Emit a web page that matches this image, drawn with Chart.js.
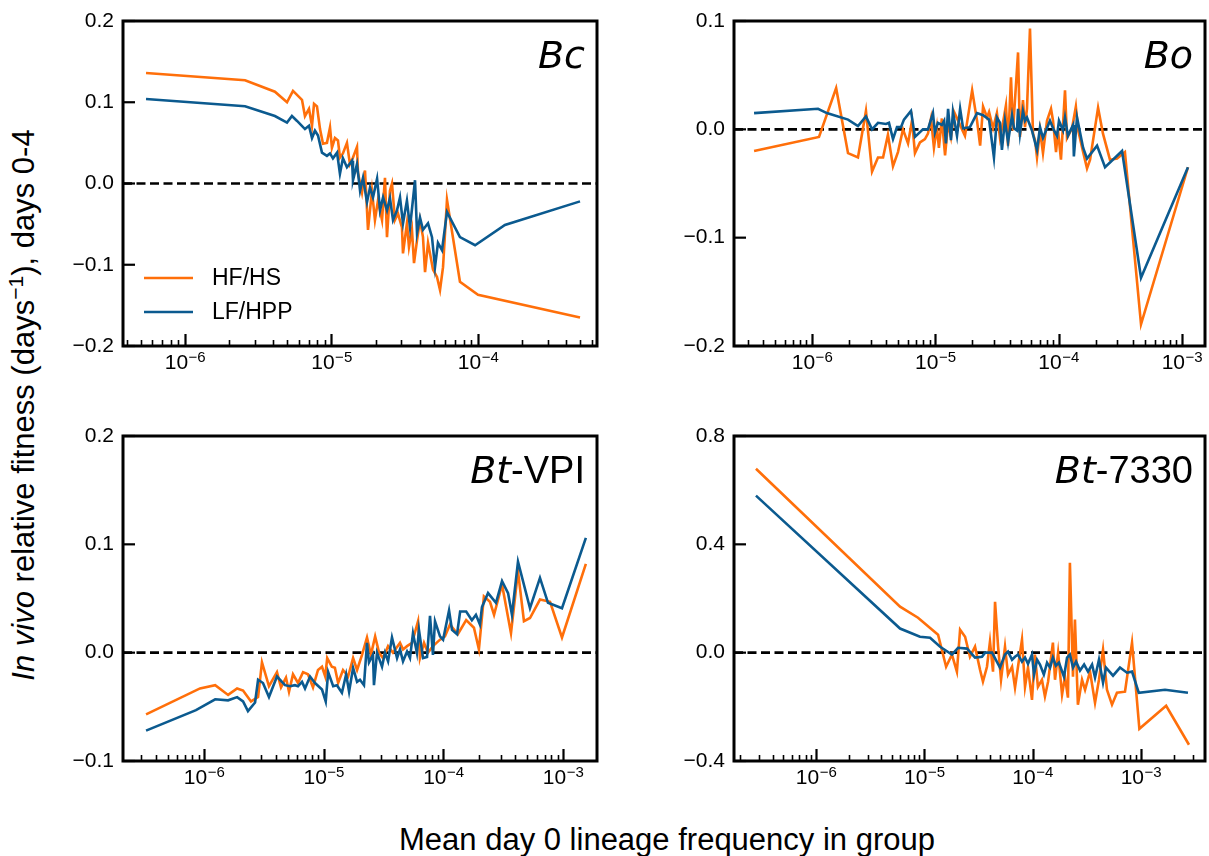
<!DOCTYPE html>
<html>
<head>
<meta charset="utf-8">
<script src="https://cdn.jsdelivr.net/npm/chart.js@4.4.0/dist/chart.umd.min.js"></script>
<style>
  body { margin: 0; background: #fff; width: 1209px; height: 856px; position: relative; overflow: hidden;
         font-family: 'Liberation Sans', Arial, sans-serif; color: #000; }
  canvas { position: absolute; }
  .xlab { position: absolute; left: 667px; top: 824px; transform: translateX(-50%);
          font-size: 31px; line-height: 31px; white-space: nowrap; }
  .ylab { position: absolute; left: 23px; top: 405px; transform: translate(-50%, -50%) rotate(-90deg);
          font-size: 31px; line-height: 31px; white-space: nowrap; }
  .ylab sup { font-size: 0.68em; position: relative; top: -0.5em; vertical-align: baseline; line-height: 0; }
</style>
</head>
<body>
<div class="ylab"><i>In vivo</i> relative fitness (days<sup>−1</sup>), days 0-4</div>
<div class="xlab">Mean day 0 lineage frequency in group</div>
<script>
const seriesLabels = ["HF/HS", "LF/HPP"];
const seriesColors = ["#ff6f0a", "#0b5a8f"];

// Bc
const bcFreqHF = [5.42e-7, 2.57e-6, 4.11e-6, 4.97e-6, 5.46e-6, 6.29e-6, 6.59e-6, 7.02e-6, 7.36e-6, 7.60e-6,
  7.96e-6, 8.35e-6, 8.75e-6, 9.31e-6, 9.77e-6, 1.007e-5, 1.056e-5, 1.107e-5, 1.142e-5, 1.197e-5,
  1.275e-5, 1.336e-5, 1.402e-5, 1.493e-5, 1.517e-5, 1.615e-5, 1.693e-5, 1.775e-5, 1.889e-5, 1.980e-5,
  2.076e-5, 2.212e-5, 2.318e-5, 2.392e-5, 2.506e-5, 2.588e-5, 2.711e-5, 2.842e-5, 3.027e-5, 3.076e-5,
  3.273e-5, 3.380e-5, 3.542e-5, 3.658e-5, 3.835e-5, 4.019e-5, 4.212e-5, 4.350e-5, 4.559e-5, 4.929e-5,
  5.249e-5, 5.505e-5, 5.771e-5, 6.142e-5, 7.53e-5, 1.0e-4, 4.97e-4];
const bcFitHF = [0.136, 0.127, 0.113, 0.100, 0.114, 0.103, 0.083, 0.092, 0.071, 0.098,
  0.095, 0.067, 0.049, 0.050, 0.069, 0.044, 0.056, 0.053, 0.032, 0.037,
  0.050, 0.024, 0.032, 0.045, 0.013, -0.011, 0.016, -0.057, -0.009, -0.045,
  -0.021, -0.045, 0.007, -0.066, -0.009, 0.000, -0.045, -0.037, -0.054, -0.086,
  -0.049, -0.078, -0.057, -0.098, -0.070, -0.045, -0.066, -0.109, -0.073, -0.106,
  -0.115, -0.131, -0.103, -0.020, -0.121, -0.137, -0.165];
const bcFreqLF = [5.42e-7, 2.57e-6, 4.11e-6, 4.97e-6, 5.37e-6, 5.82e-6, 6.59e-6, 7.02e-6, 7.36e-6, 7.71e-6,
  8.09e-6, 8.61e-6, 9.31e-6, 9.77e-6, 1.023e-5, 1.091e-5, 1.142e-5, 1.197e-5, 1.275e-5, 1.381e-5,
  1.402e-5, 1.493e-5, 1.567e-5, 1.641e-5, 1.747e-5, 1.832e-5, 1.920e-5, 2.047e-5, 2.145e-5, 2.249e-5,
  2.392e-5, 2.506e-5, 2.630e-5, 2.799e-5, 2.935e-5, 3.076e-5, 3.273e-5, 3.435e-5, 3.716e-5, 3.835e-5,
  4.019e-5, 4.212e-5, 4.559e-5, 4.853e-5, 5.086e-5, 5.330e-5, 5.679e-5, 6.142e-5, 7.53e-5, 9.55e-5,
  1.527e-4, 4.97e-4];
const bcFitLF = [0.104, 0.095, 0.083, 0.075, 0.083, 0.077, 0.067, 0.071, 0.056, 0.065,
  0.059, 0.038, 0.034, 0.037, 0.031, 0.038, 0.012, 0.031, 0.020, 0.028,
  0.004, 0.024, -0.009, 0.007, -0.023, -0.005, -0.017, 0.006, -0.033, -0.017,
  -0.033, -0.018, -0.045, -0.033, -0.017, -0.049, -0.021, -0.054, 0.004, -0.061,
  -0.042, -0.057, -0.049, -0.066, -0.103, -0.073, -0.082, -0.035, -0.066, -0.076,
  -0.051, -0.022];

// Bo
const boFreqHF = [3.39e-7, 1.14e-6, 1.57e-6, 1.96e-6, 2.36e-6, 2.74e-6, 3.07e-6, 3.43e-6, 3.77e-6, 4.13e-6,
  4.54e-6, 4.98e-6, 5.47e-6, 6.01e-6, 6.47e-6, 6.84e-6, 7.51e-6, 8.24e-6, 8.72e-6, 9.23e-6,
  9.75e-6, 1.03e-5, 1.07e-5, 1.13e-5, 1.20e-5, 1.27e-5, 1.34e-5, 1.42e-5, 1.53e-5, 1.74e-5,
  1.99e-5, 2.18e-5, 2.31e-5, 2.44e-5, 2.63e-5, 2.73e-5, 2.94e-5, 3.16e-5, 3.35e-5, 3.54e-5,
  3.74e-5, 3.89e-5, 4.11e-5, 4.27e-5, 4.69e-5, 4.86e-5, 5.14e-5, 5.34e-5, 5.54e-5, 5.86e-5,
  6.20e-5, 6.44e-5, 6.68e-5, 7.07e-5, 7.47e-5, 8.05e-5, 8.68e-5, 9.01e-5, 9.53e-5, 9.89e-5,
  1.045e-4, 1.127e-4, 1.17e-4, 1.285e-4, 1.38e-4, 1.44e-4, 1.58e-4, 1.70e-4, 1.80e-4, 2.09e-4,
  2.29e-4, 2.61e-4, 2.98e-4, 3.45e-4, 4.66e-4, 1.12e-3];
const boFitHF = [-0.020, -0.007, 0.038, -0.022, -0.026, 0.017, -0.039, -0.026, -0.026, -0.005,
  -0.034, -0.021, 0.000, -0.013, 0.008, -0.022, -0.012, -0.009, -0.004, 0.010,
  -0.017, 0.002, -0.017, 0.010, -0.024, 0.006, -0.007, 0.016, 0.008, -0.006,
  0.036, 0.008, -0.015, 0.021, 0.011, 0.016, 0.001, 0.015, -0.008, 0.006,
  0.022, -0.015, 0.048, -0.001, 0.071, -0.007, 0.027, 0.002, 0.019, 0.093,
  -0.004, -0.010, -0.026, -0.001, -0.022, 0.008, 0.019, 0.008, -0.021, -0.001,
  -0.028, 0.036, -0.008, 0.001, 0.021, -0.001, -0.021, -0.036, -0.028, 0.020,
  -0.004, -0.028, -0.027, -0.021, -0.180, -0.035];
const boFreqLF = [3.39e-7, 1.12e-6, 1.32e-6, 1.96e-6, 2.36e-6, 2.74e-6, 3.07e-6, 3.43e-6, 3.98e-6, 4.21e-6,
  4.54e-6, 4.89e-6, 5.27e-6, 5.57e-6, 6.35e-6, 6.84e-6, 7.94e-6, 8.72e-6, 9.57e-6, 9.93e-6,
  1.05e-5, 1.13e-5, 1.18e-5, 1.22e-5, 1.27e-5, 1.34e-5, 1.39e-5, 1.50e-5, 1.59e-5, 1.68e-5,
  1.91e-5, 2.18e-5, 2.44e-5, 2.73e-5, 2.99e-5, 3.16e-5, 3.35e-5, 3.47e-5, 3.67e-5, 3.89e-5,
  4.19e-5, 4.35e-5, 4.60e-5, 4.69e-5, 4.86e-5, 5.14e-5, 5.34e-5, 5.54e-5, 6.08e-5, 6.68e-5,
  7.07e-5, 7.47e-5, 8.51e-5, 9.18e-5, 9.71e-5, 1.007e-4, 1.086e-4, 1.127e-4, 1.19e-4, 1.31e-4,
  1.33e-4, 1.41e-4, 1.58e-4, 1.70e-4, 2.05e-4, 2.38e-4, 3.27e-4, 4.66e-4, 1.12e-3];
const boFitLF = [0.015, 0.019, 0.015, 0.009, 0.003, 0.012, 0.000, 0.006, 0.005, 0.006,
  -0.009, 0.002, 0.002, 0.009, 0.017, -0.007, 0.000, 0.000, 0.015, -0.003,
  0.006, 0.004, 0.008, -0.013, 0.019, -0.010, 0.016, -0.006, 0.019, 0.001,
  0.002, 0.015, 0.013, 0.009, -0.026, 0.011, 0.006, -0.019, 0.008, -0.012,
  0.013, 0.001, -0.001, 0.019, -0.004, 0.017, 0.008, 0.011, -0.001, -0.019,
  0.002, -0.008, 0.008, -0.001, -0.006, 0.008, -0.001, 0.011, -0.006, 0.004,
  -0.025, 0.011, -0.017, -0.027, -0.015, -0.035, -0.020, -0.137, -0.035];

// Bt-VPI
const vpiFreqHF = [3.28e-7, 9.26e-7, 1.24e-6, 1.59e-6, 1.89e-6, 2.12e-6, 2.47e-6, 2.83e-6, 3.05e-6, 3.49e-6,
  4.07e-6, 4.40e-6, 4.84e-6, 5.13e-6, 5.54e-6, 6.10e-6, 6.72e-6, 7.39e-6, 8.14e-6, 8.96e-6,
  9.68e-6, 1.03e-5, 1.07e-5, 1.17e-5, 1.24e-5, 1.32e-5, 1.45e-5, 1.60e-5, 1.76e-5, 1.90e-5,
  2.09e-5, 2.30e-5, 2.48e-5, 2.69e-5, 2.90e-5, 3.13e-5, 3.45e-5, 3.79e-5, 4.34e-5, 4.60e-5,
  4.97e-5, 5.47e-5, 6.14e-5, 6.37e-5, 6.89e-5, 7.43e-5, 8.18e-5, 9.37e-5, 1.03e-4, 1.135e-4,
  1.32e-4, 1.55e-4, 1.80e-4, 1.98e-4, 2.18e-4, 2.45e-4, 2.65e-4, 3.09e-4, 3.67e-4, 4.20e-4,
  4.71e-4, 5.29e-4, 6.41e-4, 7.78e-4, 9.79e-4, 1.55e-3];
const vpiFitHF = [-0.057, -0.033, -0.030, -0.039, -0.033, -0.035, -0.045, -0.041, -0.009, -0.031,
  -0.018, -0.032, -0.023, -0.036, -0.020, -0.028, -0.018, -0.020, -0.032, -0.016,
  -0.013, -0.022, -0.005, -0.013, -0.014, -0.028, -0.016, -0.022, -0.005, -0.016,
  -0.002, 0.014, -0.002, 0.015, 0.000, -0.005, 0.006, 0.000, 0.009, 0.003,
  0.006, 0.009, 0.029, -0.005, 0.009, 0.000, 0.006, 0.012, 0.015, 0.026,
  0.017, 0.030, 0.023, 0.003, 0.052, 0.047, 0.035, 0.063, 0.018, 0.075,
  0.029, 0.032, 0.049, 0.047, 0.014, 0.082];
const vpiFreqLF = [3.28e-7, 8.57e-7, 1.24e-6, 1.59e-6, 1.89e-6, 2.12e-6, 2.33e-6, 2.67e-6, 2.83e-6, 3.11e-6,
  3.49e-6, 4.07e-6, 4.75e-6, 5.23e-6, 5.75e-6, 6.10e-6, 6.59e-6, 6.98e-6, 7.69e-6, 8.46e-6,
  9.68e-6, 1.04e-5, 1.09e-5, 1.20e-5, 1.29e-5, 1.42e-5, 1.54e-5, 1.63e-5, 1.76e-5, 1.90e-5,
  2.01e-5, 2.17e-5, 2.30e-5, 2.39e-5, 2.58e-5, 2.63e-5, 2.79e-5, 3.07e-5, 3.25e-5, 3.45e-5,
  3.72e-5, 4.10e-5, 4.34e-5, 4.60e-5, 4.97e-5, 5.26e-5, 5.57e-5, 6.01e-5, 6.25e-5, 6.76e-5,
  7.30e-5, 7.73e-5, 8.18e-5, 8.51e-5, 9.37e-5, 9.94e-5, 1.115e-4, 1.18e-4, 1.30e-4, 1.38e-4,
  1.55e-4, 1.73e-4, 1.87e-4, 2.02e-4, 2.10e-4, 2.36e-4, 2.75e-4, 3.09e-4, 3.47e-4, 3.74e-4,
  4.20e-4, 5.29e-4, 6.41e-4, 7.48e-4, 9.79e-4, 1.55e-3];
const vpiFitLF = [-0.072, -0.053, -0.043, -0.044, -0.041, -0.045, -0.054, -0.046, -0.025, -0.028,
  -0.041, -0.022, -0.030, -0.031, -0.030, -0.031, -0.027, -0.033, -0.022, -0.028,
  -0.034, -0.045, -0.018, -0.031, -0.030, -0.037, -0.020, -0.036, -0.014, -0.027,
  -0.025, -0.030, 0.009, -0.009, -0.002, -0.030, 0.000, -0.013, 0.000, -0.008,
  0.014, -0.005, 0.003, -0.008, 0.001, -0.005, 0.018, 0.000, 0.021, -0.005,
  -0.004, 0.034, -0.002, 0.029, 0.015, 0.012, 0.039, 0.021, 0.017, 0.038,
  0.038, 0.030, 0.035, 0.026, 0.042, 0.055, 0.046, 0.066, 0.055, 0.035,
  0.084, 0.041, 0.069, 0.046, 0.041, 0.106];

// Bt-7330
const b73FreqHF = [2.79e-7, 5.97e-6, 8.75e-6, 1.34e-5, 1.59e-5, 1.80e-5, 2.00e-5, 2.14e-5, 2.38e-5, 2.64e-5,
  2.94e-5, 3.27e-5, 3.48e-5, 3.79e-5, 4.04e-5, 4.31e-5, 4.50e-5, 4.80e-5, 5.11e-5, 5.56e-5,
  5.93e-5, 6.46e-5, 6.88e-5, 7.33e-5, 7.98e-5, 8.51e-5, 9.07e-5, 9.87e-5, 1.05e-4, 1.12e-4,
  1.22e-4, 1.30e-4, 1.39e-4, 1.54e-4, 1.61e-4, 1.72e-4, 1.87e-4, 1.99e-4, 2.12e-4, 2.21e-4,
  2.36e-4, 2.46e-4, 2.62e-4, 2.86e-4, 3.05e-4, 3.39e-4, 3.77e-4, 4.10e-4, 4.47e-4, 4.86e-4,
  5.41e-4, 6.01e-4, 7.13e-4, 8.28e-4, 9.68e-4, 1.71e-3, 2.78e-3];
const b73FitHF = [0.679, 0.170, 0.129, 0.066, -0.052, -0.007, -0.070, 0.085, 0.059, -0.015,
  0.022, -0.063, -0.107, -0.052, 0.041, -0.070, 0.188, 0.022, -0.100, 0.022,
  -0.081, -0.052, -0.129, -0.052, 0.048, -0.126, -0.055, -0.174, -0.007, -0.126,
  -0.100, -0.162, -0.107, 0.037, -0.100, 0.000, -0.155, -0.089, -0.166, 0.332,
  -0.089, 0.122, -0.192, -0.100, -0.137, -0.070, -0.185, -0.100, 0.011, -0.137,
  -0.192, -0.148, -0.144, 0.037, -0.281, -0.196, -0.340];
const b73FreqLF = [2.79e-7, 5.97e-6, 9.12e-6, 1.13e-5, 1.40e-5, 1.80e-5, 2.05e-5, 2.48e-5, 2.94e-5, 3.41e-5,
  3.64e-5, 4.22e-5, 5.00e-5, 5.56e-5, 5.93e-5, 6.46e-5, 6.88e-5, 7.33e-5, 7.98e-5, 8.51e-5,
  9.07e-5, 9.87e-5, 1.03e-4, 1.10e-4, 1.17e-4, 1.27e-4, 1.36e-4, 1.45e-4, 1.54e-4, 1.64e-4,
  1.75e-4, 1.95e-4, 2.08e-4, 2.21e-4, 2.36e-4, 2.52e-4, 2.74e-4, 2.99e-4, 3.25e-4, 3.54e-4,
  3.77e-4, 4.10e-4, 4.47e-4, 4.76e-4, 5.53e-4, 6.41e-4, 7.44e-4, 8.28e-4, 9.55e-4, 1.67e-3,
  2.72e-3];
const b73FitLF = [0.580, 0.089, 0.059, 0.055, 0.022, -0.007, 0.018, 0.015, -0.018, -0.015,
  0.000, 0.000, -0.055, -0.007, 0.004, -0.026, -0.015, -0.007, -0.033, -0.018,
  -0.041, -0.007, -0.081, -0.026, -0.044, -0.081, -0.037, -0.055, -0.018, -0.048,
  -0.037, -0.089, -0.018, -0.007, -0.055, -0.033, -0.066, -0.044, -0.070, -0.044,
  -0.092, -0.026, -0.111, -0.055, -0.085, -0.055, -0.074, -0.070, -0.148, -0.137,
  -0.148];

// axis ranges and tick labels
const bcXRange = [3.775e-7, 6.49e-4], bcYTicks = [-0.2, -0.1, 0.0, 0.1, 0.2];
const boXRange = [2.331e-7, 1.539e-3], boYTicks = [-0.2, -0.1, 0.0, 0.1];
const vpiXRange = [2.105e-7, 1.920e-3], vpiYTicks = [-0.1, 0.0, 0.1, 0.2];
const b73XRange = [1.749e-7, 3.907e-3], b73YTicks = [-0.4, 0.0, 0.4, 0.8];

const FONT = "'Liberation Sans', Arial, sans-serif";
Chart.defaults.font.family = FONT;
Chart.defaults.color = '#000';

const panels = [
  { title: [['Bc', true]], freq: [bcFreqHF, bcFreqLF], fit: [bcFitHF, bcFitLF],
    xRange: bcXRange, yTicks: bcYTicks, box: [123, 21, 597, 346], legend: true },
  { title: [['Bo', true]], freq: [boFreqHF, boFreqLF], fit: [boFitHF, boFitLF],
    xRange: boXRange, yTicks: boYTicks, box: [734, 21, 1205, 346] },
  { title: [['Bt', true], ['-VPI', false]], freq: [vpiFreqHF, vpiFreqLF], fit: [vpiFitHF, vpiFitLF],
    xRange: vpiXRange, yTicks: vpiYTicks, box: [123, 436, 597, 761] },
  { title: [['Bt', true], ['-7330', false]], freq: [b73FreqHF, b73FreqLF], fit: [b73FitHF, b73FitLF],
    xRange: b73XRange, yTicks: b73YTicks, box: [734, 436, 1205, 761] }
];

function logTicks(min, max) {
  const out = [];
  for (let e = Math.floor(Math.log10(min)); e <= Math.ceil(Math.log10(max)); e++) {
    for (let m = 1; m <= 9; m++) {
      const v = m * Math.pow(10, e);
      if (v >= min && v <= max) out.push({ value: v, major: m === 1 });
    }
  }
  return out;
}

function fmtY(v) {
  const r = Math.round(v * 10) / 10;
  return (r < 0 ? '\u2212' : '') + Math.abs(r).toFixed(1);
}

// frame, inward ticks, zero line, x labels, title, legend
const decor = {
  id: 'decor',
  beforeDatasetsDraw(chart) {
    const { ctx, chartArea: a, scales: { y } } = chart;
    const py = y.getPixelForValue(0);
    ctx.save();
    ctx.setLineDash([9, 4.5]);
    ctx.lineWidth = 2.6;
    ctx.strokeStyle = '#000';
    ctx.beginPath();
    ctx.moveTo(a.left, py);
    ctx.lineTo(a.right, py);
    ctx.stroke();
    ctx.restore();
  },
  afterDraw(chart, args, opts) {
    const { ctx, chartArea: a, scales: { x, y } } = chart;
    ctx.save();
    ctx.strokeStyle = '#000';
    ctx.fillStyle = '#000';

    // x ticks, pointing in
    x.ticks.forEach(t => {
      const px = Math.round(x.getPixelForValue(t.value)) + 0.5;
      ctx.lineWidth = t.major ? 2.2 : 1.6;
      ctx.beginPath();
      ctx.moveTo(px, a.bottom);
      ctx.lineTo(px, a.bottom - (t.major ? 12 : 6));
      ctx.stroke();
    });
    // y ticks, pointing in
    ctx.lineWidth = 2.2;
    y.ticks.forEach(t => {
      const py = y.getPixelForValue(t.value);
      ctx.beginPath();
      ctx.moveTo(a.left, py);
      ctx.lineTo(a.left + 12, py);
      ctx.stroke();
    });

    // x tick labels 10^n
    ctx.textBaseline = 'alphabetic';
    ctx.textAlign = 'left';
    x.ticks.filter(t => t.major).forEach(t => {
      const px = x.getPixelForValue(t.value);
      const exp = '\u2212' + Math.abs(Math.round(Math.log10(t.value)));
      ctx.font = '21px ' + FONT;
      const w1 = ctx.measureText('10').width;
      ctx.font = '15px ' + FONT;
      const w2 = ctx.measureText(exp).width;
      const x0 = px - (w1 + w2) / 2;
      ctx.font = '21px ' + FONT;
      ctx.fillText('10', x0, a.bottom + 23);
      ctx.font = '15px ' + FONT;
      ctx.fillText(exp, x0 + w1 + 0.5, a.bottom + 16);
    });

    // frame
    ctx.lineWidth = 3;
    ctx.strokeRect(a.left, a.top, a.right - a.left, a.bottom - a.top);

    // panel title
    const fonts = opts.title.map(([s, it]) => it ? 'italic 38px "DejaVu Sans"' : '38px ' + FONT);
    let total = 0;
    const widths = opts.title.map(([s], i) => { ctx.font = fonts[i]; const w = ctx.measureText(s).width; total += w; return w; });
    let tx = a.right - 12 - total;
    opts.title.forEach(([s], i) => { ctx.font = fonts[i]; ctx.fillText(s, tx, a.top + 47); tx += widths[i]; });

    // legend
    if (opts.legend) {
      ctx.textBaseline = 'middle';
      chart.data.datasets.forEach((ds, i) => {
        const ly = a.top + 257 + i * 34;
        ctx.strokeStyle = ds.borderColor;
        ctx.lineWidth = 2.6;
        ctx.beginPath();
        ctx.moveTo(a.left + 21, ly);
        ctx.lineTo(a.left + 70, ly);
        ctx.stroke();
        ctx.font = '23px ' + FONT;
        ctx.fillText(ds.label, a.left + 89, ly + 1);
      });
    }
    ctx.restore();
  }
};

const padL = 90, padT = 20, padR = 4, padB = 42;

panels.forEach(p => {
  const [L, T, R, B] = p.box;
  const cv = document.createElement('canvas');
  cv.width = R - L + padL + padR;
  cv.height = B - T + padT + padB;
  cv.style.left = (L - padL) + 'px';
  cv.style.top = (T - padT) + 'px';
  document.body.appendChild(cv);

  new Chart(cv, {
    type: 'line',
    data: {
      datasets: seriesLabels.map((lab, i) => ({
        label: lab,
        data: p.freq[i].map((f, j) => ({ x: f, y: p.fit[i][j] })),
        borderColor: seriesColors[i],
        borderWidth: 2.6,
        pointRadius: 0,
        tension: 0,
        fill: false,
        order: 2 - i
      }))
    },
    options: {
      responsive: false,
      animation: false,
      events: [],
      layout: { padding: { left: 0, top: padT, right: padR, bottom: 0 } },
      plugins: {
        legend: { display: false },
        tooltip: { enabled: false },
        decor: { title: p.title, legend: !!p.legend }
      },
      scales: {
        x: {
          type: 'logarithmic',
          bounds: 'data',
          min: p.xRange[0],
          max: p.xRange[1],
          grid: { display: false, drawTicks: false },
          border: { display: false },
          ticks: { display: false },
          afterBuildTicks: s => { s.ticks = logTicks(s.min, s.max); },
          afterFit: s => { s.height = padB; s.paddingLeft = 0; s.paddingRight = 0; }
        },
        y: {
          min: p.yTicks[0],
          max: p.yTicks[p.yTicks.length - 1],
          grid: { display: false, drawTicks: false },
          border: { display: false },
          afterBuildTicks: s => { s.ticks = p.yTicks.map(v => ({ value: v })); },
          ticks: { padding: 9, color: '#000', font: { size: 21 }, callback: v => fmtY(v) },
          afterFit: s => { s.width = padL; s.paddingTop = 0; s.paddingBottom = 0; }
        }
      }
    },
    plugins: [decor]
  });
});
</script>
</body>
</html>
